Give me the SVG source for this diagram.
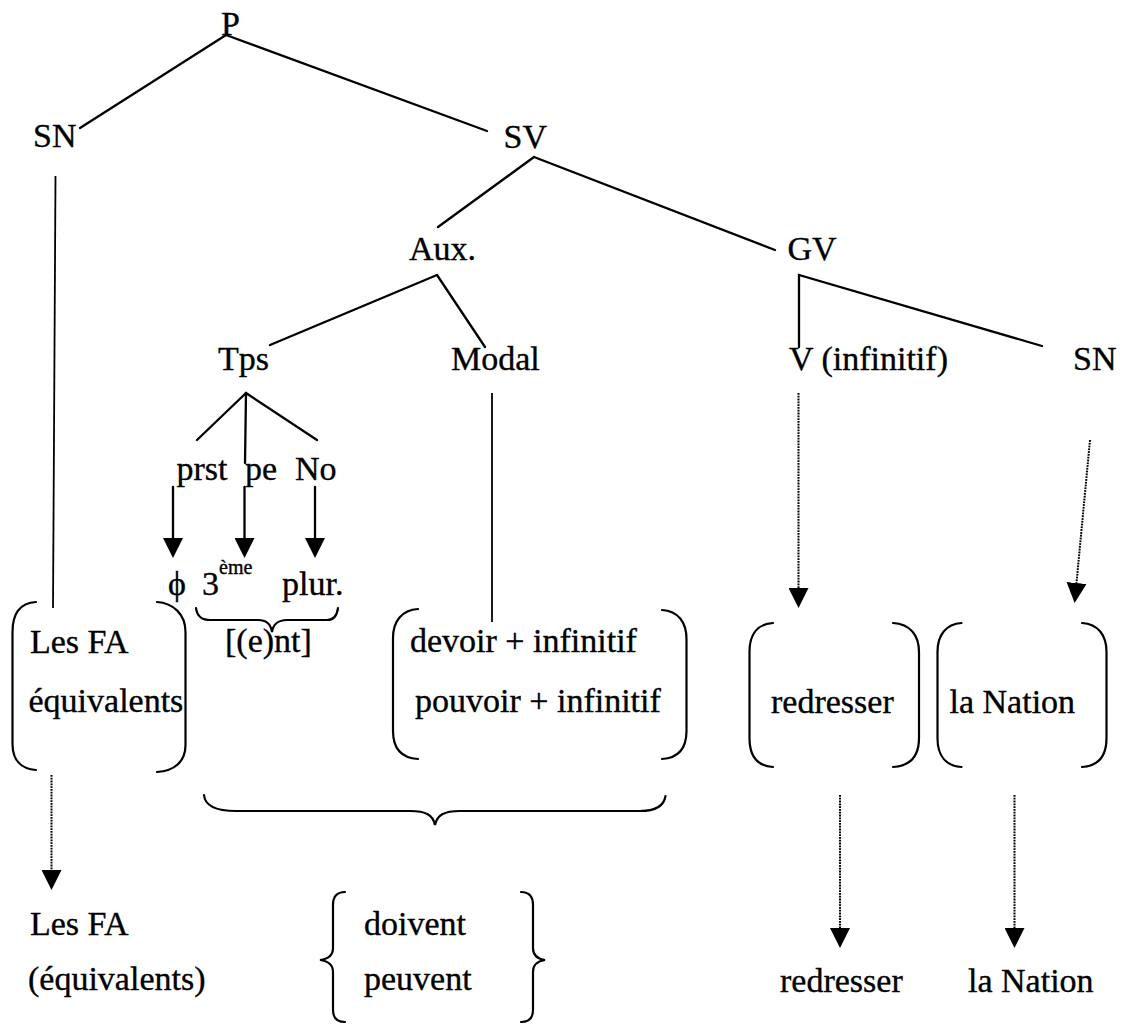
<svg xmlns="http://www.w3.org/2000/svg" width="1122" height="1025" viewBox="0 0 1122 1025">
  <style>
    text { font-family: "Liberation Serif", "Times New Roman", serif; font-size: 34px; fill: #000; stroke: #000; stroke-width: 0.35px; }
    .sup { font-size: 20px; }
    .edge { stroke: #000; stroke-width: 2.3; fill: none; stroke-linecap: round; }
    .thin { stroke: #000; stroke-width: 1.8; fill: none; }
    .dot { stroke: #000; stroke-width: 2; fill: none; stroke-dasharray: 1.8 1; }
    .brk { stroke: #000; stroke-width: 2.2; fill: none; stroke-linecap: round; }
  </style>
  <defs>
    <marker id="tri" viewBox="0 0 20 20" refX="0" refY="10" markerWidth="20" markerHeight="20" markerUnits="userSpaceOnUse" orient="auto">
      <path d="M0,0 L20,10 L0,20 z" fill="#000"/>
    </marker>
  </defs>

  <rect width="1122" height="1025" fill="#fff"/>

  <!-- tree branches and arrows -->
  <g id="connectors">
    <line class="edge" x1="226" y1="35" x2="80" y2="128"/>
    <line class="edge" x1="226" y1="35" x2="487" y2="131"/>
    <line class="thin" x1="55.5" y1="176" x2="53" y2="608"/>
    <line class="edge" x1="534" y1="157" x2="438" y2="227"/>
    <line class="edge" x1="534" y1="157" x2="775" y2="250"/>
    <line class="edge" x1="437" y1="275" x2="270" y2="345"/>
    <line class="edge" x1="437" y1="275" x2="485" y2="347"/>
    <polyline class="edge" points="799,347 799,275 1042,346"/>
    <line class="edge" x1="246" y1="393" x2="197" y2="440"/>
    <line class="edge" x1="246" y1="393" x2="245" y2="463"/>
    <line class="edge" x1="246" y1="393" x2="317" y2="440"/>
    <line class="edge" x1="173" y1="487" x2="173" y2="538" marker-end="url(#tri)"/>
    <line class="edge" x1="244.5" y1="487" x2="244.5" y2="538" marker-end="url(#tri)"/>
    <line class="edge" x1="315" y1="487" x2="315" y2="538" marker-end="url(#tri)"/>
    <line class="thin" x1="492" y1="393" x2="492" y2="622"/>
    <line class="dot" x1="798.5" y1="393" x2="798.5" y2="588" marker-end="url(#tri)"/>
    <line class="dot" x1="1090" y1="440" x2="1076.5" y2="583" marker-end="url(#tri)"/>
    <line class="dot" x1="51.5" y1="775" x2="51.5" y2="870" marker-end="url(#tri)"/>
    <line class="dot" x1="840" y1="795" x2="840" y2="928" marker-end="url(#tri)"/>
    <line class="dot" x1="1014.5" y1="795" x2="1014.5" y2="928" marker-end="url(#tri)"/>
  </g>

  <!-- constituent labels -->
  <g id="n-p"><text x="221" y="35">P</text></g>
  <g id="n-sn"><text x="33" y="147">SN</text></g>
  <g id="n-sv"><text x="503.5" y="148">SV</text></g>
  <g id="n-aux"><text x="409" y="260">Aux.</text></g>
  <g id="n-gv"><text x="787.5" y="260">GV</text></g>
  <g id="n-tps"><text x="218" y="370">Tps</text></g>
  <g id="n-modal"><text x="451" y="370">Modal</text></g>
  <g id="n-v"><text x="789" y="370">V (infinitif)</text></g>
  <g id="n-sn2"><text x="1073" y="370">SN</text></g>
  <g id="n-prst"><text x="176.5" y="480">prst</text></g>
  <g id="n-pe"><text x="245" y="480">pe</text></g>
  <g id="n-no"><text x="295" y="480">No</text></g>

  <!-- morpheme values -->
  <g id="n-phi"><text x="168" y="595">ϕ</text></g>
  <g id="n-3eme"><text x="202" y="595">3<tspan class="sup" dy="-21">ème</tspan></text></g>
  <g id="n-plur"><text x="282" y="595">plur.</text></g>
  <g id="n-ent">
    <path class="brk" d="M196 608 C197 616 201 620 211 620 L258 620 C267 620 271 625 272 632 C273 625 278 620 287 620 L327 620 C334 620 337 616 338 608"/>
    <text x="225" y="652">[(e)nt]</text>
  </g>

  <!-- bracketed alternatives -->
  <g id="n-lesfa">
    <path class="brk" d="M36 602 C20 603 12.5 614 12.5 632 L12.5 744 C12.5 760 21 769 36 770"/>
    <path class="brk" d="M157 602 C173 603 185.5 614 185.5 632 L185.5 745 C185.5 762 174 771 157 772"/>
    <text x="30" y="653">Les FA</text>
    <text x="28.5" y="712">équivalents</text>
  </g>
  <g id="n-modaux">
    <path class="brk" d="M418 609 C402 610 393 621 393 638 L393 731 C393 749 402 758 418 759"/>
    <path class="brk" d="M662 610 C678 611 686.5 622 686.5 639 L686.5 731 C686.5 749 678 758 662 759"/>
    <text x="410" y="652">devoir + infinitif</text>
    <text x="415" y="712">pouvoir + infinitif</text>
  </g>
  <g id="n-redresser">
    <path class="brk" d="M773 623 C757 624 749.5 635 749.5 652 L749.5 738 C749.5 756 757 766 773 767"/>
    <path class="brk" d="M893 623 C910 624 919 635 919 652 L919 738 C919 756 910 766 893 767"/>
    <text x="771" y="713">redresser</text>
  </g>
  <g id="n-nation">
    <path class="brk" d="M961.5 623 C946 624 937.5 635 937.5 652 L937.5 738 C937.5 756 946 766 961.5 767"/>
    <path class="brk" d="M1082 623 C1098 624 1106.5 635 1106.5 652 L1106.5 738 C1106.5 756 1098 766 1082 767"/>
    <text x="949.5" y="713">la Nation</text>
  </g>

  <!-- combined auxiliary brace -->
  <g id="n-auxbrace">
    <path class="brk" d="M204 795 C205 806 215 811 236 811 L410 811 C426 811 433 815 435 825 C437 815 444 811 460 811 L640 811 C656 811 664 806 665.5 796"/>
  </g>

  <!-- surface forms -->
  <g id="n-lesfa2">
    <text x="30" y="935">Les FA</text>
    <text x="28" y="990">(équivalents)</text>
  </g>
  <g id="n-forms">
    <path class="brk" d="M345 892 C337 892 333 897 333 905 L333 948 C333 955 328 959 320 960 C328 961 333 965 333 972 L333 1010 C333 1018 337 1022 345 1022"/>
    <path class="brk" d="M521 892 C529 892 533 897 533 905 L533 948 C533 955 538 959 545 960 C538 961 533 965 533 972 L533 1010 C533 1018 529 1022 521 1022"/>
    <text x="364" y="935">doivent</text>
    <text x="364" y="990">peuvent</text>
  </g>
  <g id="n-redresser2"><text x="780" y="992">redresser</text></g>
  <g id="n-nation2"><text x="968" y="992">la Nation</text></g>
</svg>
